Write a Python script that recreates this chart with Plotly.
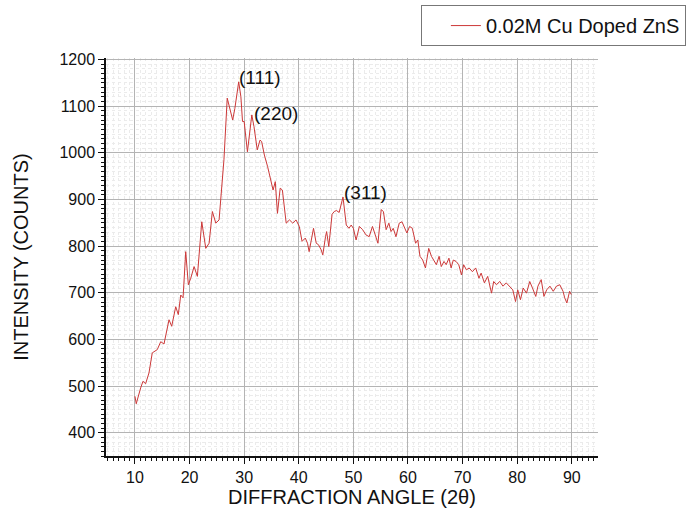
import plotly.graph_objects as go

two_theta = [10.0, 10.24, 11.05, 11.47, 11.96, 12.57, 13.17, 14.09, 14.72, 15.32,
             16.24, 16.73, 17.47, 17.94, 18.39, 18.81, 19.30, 19.78, 20.22, 20.83,
             21.43, 22.24, 22.97, 23.58, 24.18, 24.81, 25.41, 26.02, 26.3, 26.9,
             27.4, 27.9, 28.3, 29.0, 29.4, 29.7, 30.0, 30.2, 30.6, 31.4,
             31.8, 32.4, 32.9, 33.2, 33.7, 34.3, 34.9, 35.3, 35.7, 36.1,
             36.6, 37.0, 37.7, 38.3, 38.9, 39.5, 40.1, 40.6, 41.2, 41.6,
             41.9, 42.7, 43.2, 43.6, 44.1, 44.4, 44.9, 45.1, 45.5, 46.1,
             46.5, 46.9, 47.4, 48.1, 48.7, 49.2, 49.6, 50.0, 50.5, 51.1,
             51.7, 52.3, 52.9, 53.5, 54.0, 54.5, 55.1, 55.5, 56.0, 56.5,
             56.9, 57.3, 57.8, 58.4, 58.9, 59.4, 59.8, 60.3, 60.8, 61.4,
             61.8, 62.2, 62.7, 63.2, 63.8, 64.3, 64.7, 65.2, 65.7, 66.1,
             66.6, 67.0, 67.5, 67.9, 68.3, 68.8, 69.3, 69.8, 70.2, 70.7,
             71.2, 71.8, 72.4, 73.0, 73.4, 74.0, 74.6, 75.3, 75.7, 76.2,
             76.8, 77.4, 78.0, 78.6, 79.2, 79.7, 80.1, 80.6, 81.1, 81.7,
             82.3, 82.8, 83.4, 83.8, 84.4, 84.9, 85.4, 86.0, 86.6, 87.2,
             87.8, 88.4, 88.7, 89.1, 89.6, 89.9]

intensity = [478, 462, 496, 510, 505, 528, 571, 578, 595, 590,
             642, 628, 670, 653, 695, 689, 788, 717, 731, 756,
             735, 852, 795, 806, 874, 849, 856, 942, 985, 1117,
             1092, 1070, 1095, 1152, 1120, 1067, 1067, 1045, 1002, 1081,
             1056, 1006, 1027, 1024, 995, 970, 942, 920, 938, 870,
             924, 920, 849, 856, 849, 856, 842, 810, 817, 806,
             788, 838, 806, 803, 792, 781, 820, 831, 799, 868,
             874, 876, 872, 905, 845, 838, 845, 838, 813, 842,
             835, 824, 820, 842, 824, 806, 878, 874, 835, 849,
             831, 838, 820, 849, 852, 838, 828, 842, 838, 806,
             813, 778, 770, 753, 795, 778, 770, 760, 778, 756,
             767, 760, 774, 753, 770, 767, 760, 738, 760, 749,
             753, 745, 753, 731, 742, 721, 735, 699, 724, 717,
             724, 714, 721, 714, 706, 681, 706, 685, 710, 699,
             724, 710, 692, 714, 728, 692, 706, 714, 703, 714,
             717, 703, 689, 678, 703, 696]

peak_labels = ["(111)", "(220)", "(311)"]
peak_x = [28.7, 31.5, 48.0]
peak_y = [1162, 1085, 914]

series_name = "0.02M Cu Doped ZnS"
x_ticks = [10, 20, 30, 40, 50, 60, 70, 80, 90]
y_ticks = [400, 500, 600, 700, 800, 900, 1000, 1100, 1200]

FONT = "Liberation Sans, Arial, sans-serif"

fig = go.Figure()
fig.add_trace(go.Scatter(
    x=two_theta, y=intensity, mode="lines", name=series_name,
    line=dict(color="#cc3838", width=1),
))

for t, xx, yy in zip(peak_labels, peak_x, peak_y):
    fig.add_annotation(x=xx, y=yy, text=t, showarrow=False,
                       xanchor="left", yanchor="middle",
                       font=dict(family=FONT, size=19, color="#111"))

axis_common = dict(
    showline=True, linecolor="#111", linewidth=1.5,
    ticks="outside", ticklen=6, tickwidth=1.2, tickcolor="#111",
    showgrid=True, gridcolor="#b4b4b4", gridwidth=1,
    tickfont=dict(family=FONT, size=16, color="#111"),
    zeroline=False, mirror=False,
)

fig.update_xaxes(
    range=[4.7, 94.8], tickvals=x_ticks,
    title=dict(text="DIFFRACTION ANGLE (2θ)", font=dict(family=FONT, size=20, color="#111"), standoff=3),
    minor=dict(dtick=1, ticks="outside", ticklen=3, tickcolor="#111",
               showgrid=True, gridcolor="#ebebeb", griddash="dot", gridwidth=1),
    **axis_common,
)
fig.update_yaxes(
    range=[350, 1203], tickvals=y_ticks,
    title=dict(text="INTENSITY (COUNTS)", font=dict(family=FONT, size=20, color="#111"), standoff=25),
    minor=dict(dtick=10, ticks="outside", ticklen=3, tickcolor="#111",
               showgrid=True, gridcolor="#ebebeb", griddash="dot", gridwidth=1),
    **axis_common,
)

fig.update_layout(
    width=686, height=516,
    margin=dict(l=106, r=88, t=58, b=60, autoexpand=False),
    plot_bgcolor="white", paper_bgcolor="white",
    showlegend=True,
    legend=dict(x=0.64, y=1.133, xanchor="left", yanchor="top",
                bordercolor="#777", borderwidth=1, bgcolor="white",
                font=dict(family=FONT, size=20, color="#111"),
                indentation=24),
    font=dict(family=FONT),
)

fig.write_html("out.html")
